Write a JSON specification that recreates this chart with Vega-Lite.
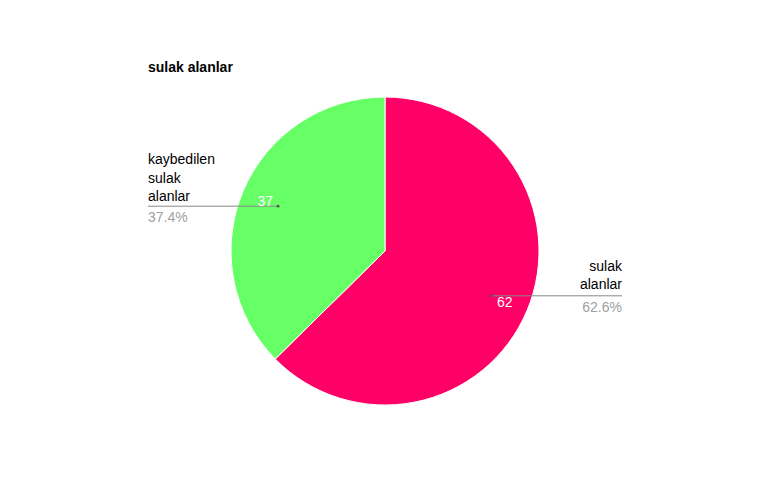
{
  "$schema": "https://vega.github.io/schema/vega-lite/v6.json",
  "width": 474,
  "height": 308,
  "autosize": {"type": "none"},
  "padding": {"left": 148, "top": 97, "right": 146, "bottom": 95},
  "background": "white",
  "config": {"view": {"stroke": null}, "font": "Liberation Sans"},
  "title": {"text": "sulak alanlar", "anchor": "start", "frame": "group", "fontSize": 14, "fontWeight": "bold", "font": "Liberation Sans", "color": "#000000", "offset": 20},
  "data": {"values": [
    {"kategori": "sulak alanlar", "deger": 62, "sira": 1},
    {"kategori": "kaybedilen sulak alanlar", "deger": 37, "sira": 2}
  ]},
  "transform": [
    {"joinaggregate": [{"op": "sum", "field": "deger", "as": "toplam"}]},
    {"window": [{"op": "sum", "field": "deger", "as": "kum"}], "sort": [{"field": "sira"}], "frame": [null, 0]},
    {"calculate": "2*PI*(datum.kum - datum.deger/2)/datum.toplam", "as": "aci"},
    {"calculate": "0.753*sin(datum.aci)", "as": "nx"},
    {"calculate": "0.753*cos(datum.aci)", "as": "ny"},
    {"calculate": "datum.nx < 0 ? -1.539 : 1.539", "as": "kx"},
    {"calculate": "format(datum.deger/datum.toplam, '.1%')", "as": "yuzde"}
  ],
  "layer": [
    {
      "mark": {"type": "arc", "stroke": "white", "strokeWidth": 1},
      "encoding": {
        "theta": {"field": "deger", "type": "quantitative", "stack": true},
        "order": {"field": "sira", "type": "quantitative"},
        "color": {"field": "kategori", "type": "nominal", "legend": null,
          "scale": {"domain": ["sulak alanlar", "kaybedilen sulak alanlar"], "range": ["#ff0066", "#66ff66"]}}
      }
    },
    {
      "mark": {"type": "rule", "color": "#888888", "strokeWidth": 1},
      "encoding": {
        "x": {"field": "nx", "type": "quantitative", "scale": {"domain": [-1.539, 1.539], "nice": false, "zero": false}, "axis": null},
        "x2": {"field": "kx"},
        "y": {"field": "ny", "type": "quantitative", "scale": {"domain": [-1, 1], "nice": false, "zero": false}, "axis": null}
      }
    },
    {
      "mark": {"type": "circle", "color": "#555555", "opacity": 1, "size": 8},
      "encoding": {
        "x": {"field": "nx", "type": "quantitative"},
        "y": {"field": "ny", "type": "quantitative"}
      }
    },
    {
      "transform": [{"filter": "datum.nx < 0"}],
      "layer": [
        {
          "mark": {"type": "text", "align": "left", "baseline": "alphabetic", "dy": -42, "fontSize": 14, "lineBreak": " ", "lineHeight": 18.5, "color": "#000000"},
          "encoding": {"x": {"field": "kx", "type": "quantitative"}, "y": {"field": "ny", "type": "quantitative"}, "text": {"field": "kategori"}}
        },
        {
          "mark": {"type": "text", "align": "left", "baseline": "top", "dy": 5, "fontSize": 14, "color": "#a0a0a0"},
          "encoding": {"x": {"field": "kx", "type": "quantitative"}, "y": {"field": "ny", "type": "quantitative"}, "text": {"field": "yuzde"}}
        },
        {
          "mark": {"type": "text", "align": "right", "baseline": "alphabetic", "dx": -5, "dy": 0, "fontSize": 14, "color": "#ffffff"},
          "encoding": {"x": {"field": "nx", "type": "quantitative"}, "y": {"field": "ny", "type": "quantitative"}, "text": {"field": "deger"}}
        }
      ]
    },
    {
      "transform": [{"filter": "datum.nx >= 0"}],
      "layer": [
        {
          "mark": {"type": "text", "align": "right", "baseline": "alphabetic", "dy": -25, "fontSize": 14, "lineBreak": " ", "lineHeight": 18.5, "color": "#000000"},
          "encoding": {"x": {"field": "kx", "type": "quantitative"}, "y": {"field": "ny", "type": "quantitative"}, "text": {"field": "kategori"}}
        },
        {
          "mark": {"type": "text", "align": "right", "baseline": "top", "dy": 5, "fontSize": 14, "color": "#a0a0a0"},
          "encoding": {"x": {"field": "kx", "type": "quantitative"}, "y": {"field": "ny", "type": "quantitative"}, "text": {"field": "yuzde"}}
        },
        {
          "mark": {"type": "text", "align": "left", "baseline": "top", "dx": 5, "dy": 0, "fontSize": 14, "color": "#ffffff"},
          "encoding": {"x": {"field": "nx", "type": "quantitative"}, "y": {"field": "ny", "type": "quantitative"}, "text": {"field": "deger"}}
        }
      ]
    }
  ]
}
